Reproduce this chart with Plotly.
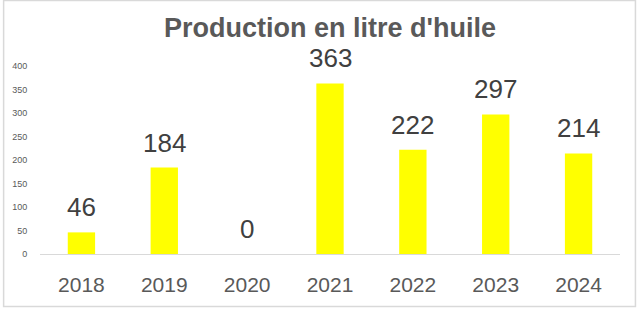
import plotly.graph_objects as go

years = ["2018", "2019", "2020", "2021", "2022", "2023", "2024"]
values = [46, 184, 0, 363, 222, 297, 214]
title_text = "Production en litre d'huile"

FONT = "Liberation Sans, Arial, sans-serif"

W, H = 637, 327
L, R, T, B = 38, 620, 66, 254
pw, ph = R - L, B - T

fig = go.Figure()
fig.add_trace(go.Bar(x=years, y=values, marker=dict(color="#FFFF00", line=dict(width=0)),
                     width=0.33, hoverinfo="x+y", cliponaxis=False))

# category index positions (numeric-like category names are read as indices by annotations)
for i, v in enumerate(values):
    fig.add_annotation(x=i, y=v, text=str(v), showarrow=False, xref="x", yref="y",
                       yanchor="bottom", yshift=8,
                       font=dict(family=FONT, size=26, color="#404040"))

def px_x(x):
    return (x - L) / pw

def px_y(y):
    return (B - y) / ph

fig.add_shape(type="rect", xref="paper", yref="paper",
              x0=px_x(1.5), x1=px_x(635.5), y0=px_y(306.5), y1=px_y(0.5),
              line=dict(color="#d9d9d9", width=1.5), fillcolor="rgba(0,0,0,0)", layer="below")

fig.update_layout(
    width=W, height=H,
    margin=dict(l=L, r=W - R, t=T, b=H - B, pad=0),
    paper_bgcolor="white", plot_bgcolor="white",
    showlegend=False,
    title=dict(text="<b>" + title_text + "</b>", x=0.5, xref="paper", xanchor="center",
               y=1 - 28 / H, yref="container", yanchor="middle",
               font=dict(family=FONT, size=27, color="#595959")),
    xaxis=dict(type="category", categoryorder="array", categoryarray=years,
               range=[-0.5, len(years) - 0.5], autorange=False,
               showgrid=False, showline=True, linecolor="#d9d9d9", linewidth=1,
               ticks="outside", ticklen=12, tickcolor="rgba(0,0,0,0)",
               tickfont=dict(family=FONT, size=21, color="#595959"),
               zeroline=False, fixedrange=True),
    yaxis=dict(range=[0, 400], autorange=False, dtick=50, showgrid=False, showline=False,
               zeroline=False, ticks="outside", ticklen=10, tickcolor="rgba(0,0,0,0)",
               tickfont=dict(family=FONT, size=9, color="#595959"), fixedrange=True),
)

fig.write_html("out.html")
